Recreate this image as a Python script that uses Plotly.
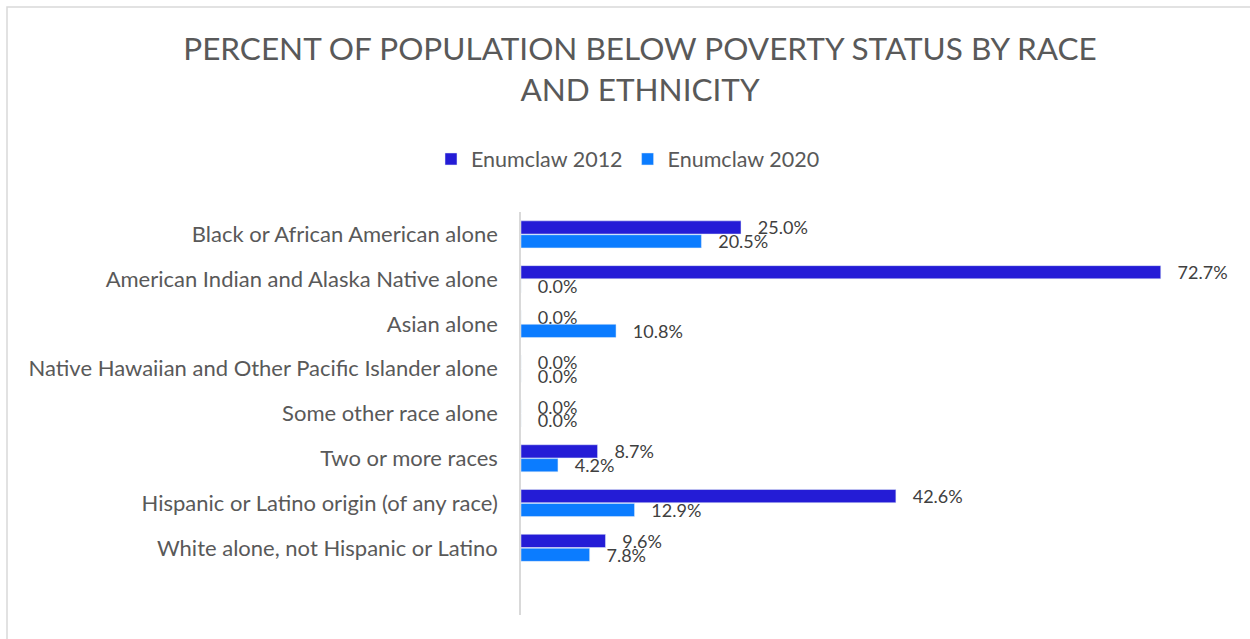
import plotly.graph_objects as go

categories = [
    "Black or African American alone",
    "American Indian and Alaska Native alone",
    "Asian alone",
    "Native Hawaiian and Other Pacific Islander alone",
    "Some other race alone",
    "Two or more races",
    "Hispanic or Latino origin (of any race)",
    "White alone, not Hispanic or Latino",
    " ",
]
enumclaw_2012 = [25.0, 72.7, 0.0, 0.0, 0.0, 8.7, 42.6, 9.6, None]
enumclaw_2020 = [20.5, 0.0, 10.8, 0.0, 0.0, 4.2, 12.9, 7.8, None]

W, H = 1250, 639
ML, MR, MT, MB = 521, 25, 212, 24
FONT = "Lato, 'Open Sans', sans-serif"
PAD = "\u00a0\u00a0\u00a0"

def labels(vals):
    return [("" if v is None else f"{PAD}{v:.1f}%") for v in vals]

fig = go.Figure()
for name, vals, color in [("Enumclaw 2012", enumclaw_2012, "#241CD6"),
                          ("Enumclaw 2020", enumclaw_2020, "#0B7CFF")]:
    fig.add_trace(go.Bar(
        y=categories, x=vals, orientation="h", name=name,
        marker=dict(color=color), text=labels(vals),
        textposition="outside", cliponaxis=False, constraintext="none",
        textfont=dict(size=18, color="#404040", family=FONT),
    ))

pw = W - ML - MR
ph = H - MT - MB
def px_x(x):
    return (x - ML) / pw
def px_y(y):
    return (H - MB - y) / ph

fig.update_layout(
    width=W, height=H,
    margin=dict(l=ML, r=MR, t=MT, b=MB),
    paper_bgcolor="white", plot_bgcolor="white",
    font=dict(family=FONT, color="#595959"),
    barmode="group", bargap=0.38, bargroupgap=0.05,
    title=dict(
        text="PERCENT OF POPULATION BELOW POVERTY STATUS BY RACE<br>AND ETHNICITY",
        x=640 / W, xanchor="center", xref="container",
        y=1 - 60 / H, yanchor="middle", yref="container",
        font=dict(size=31.5, color="#595959", family=FONT),
    ),
    legend=dict(
        orientation="h", x=px_x(628), xanchor="center",
        y=px_y(159), yanchor="middle",
        font=dict(size=21.5, color="#595959", family=FONT),
        traceorder="normal",
    ),
    xaxis=dict(range=[0, 80], visible=False),
    yaxis=dict(
        autorange="reversed", showline=True, linecolor="#d9d9d9", linewidth=1.5,
        showgrid=False, ticks="", ticklabelstandoff=17,
        tickfont=dict(size=22, color="#595959", family=FONT),
    ),
    shapes=[dict(
        type="rect", xref="paper", yref="paper",
        x0=px_x(7), x1=px_x(1270), y0=px_y(660), y1=px_y(7),
        line=dict(color="#d9d9d9", width=1.5), fillcolor="rgba(0,0,0,0)",
        layer="below",
    )],
)

fig.write_html("out.html", config={"displayModeBar": False},
               post_script="document.body.style.margin='0';")
